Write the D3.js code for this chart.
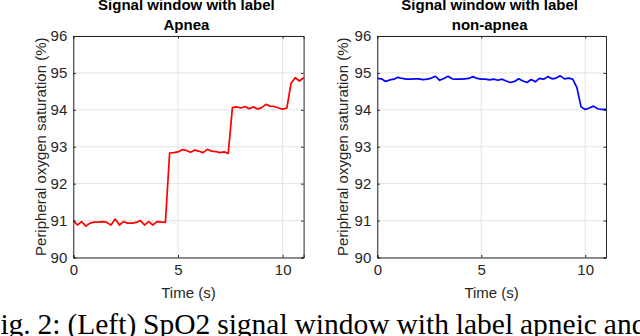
<!DOCTYPE html>
<html><head><meta charset="utf-8">
<script src="https://cdn.jsdelivr.net/npm/d3@7"></script>
<style>body{margin:0;background:#fff}svg{display:block}</style>
</head><body>
<svg id="c" width="640" height="336"></svg>
<script>
const timeS = [0.0,0.2,0.4,0.6,0.8,1.0,1.2,1.4,1.6,1.8,2.0,2.2,2.4,2.6,2.8,3.0,3.2,3.4,3.6,3.8,4.0,4.2,4.4,4.6,4.8,5.0,5.2,5.4,5.6,5.8,6.0,6.2,6.4,6.6,6.8,7.0,7.2,7.4,7.6,7.8,8.0,8.2,8.4,8.6,8.8,9.0,9.2,9.4,9.6,9.8,10.0,10.2,10.4,10.6,10.8,11.0];
const apneaSpO2 = [91.00,90.88,90.97,90.85,90.93,90.96,90.96,90.97,90.95,90.88,91.04,90.88,90.97,90.93,90.93,90.95,91.00,90.88,90.97,90.88,90.97,90.96,90.95,92.83,92.84,92.86,92.92,92.90,92.85,92.91,92.88,92.84,92.93,92.88,92.87,92.84,92.86,92.82,94.06,94.08,94.05,94.09,94.03,94.08,94.02,94.06,94.15,94.10,94.09,94.05,94.02,94.05,94.72,94.87,94.78,94.87];
const nonApneaSpO2 = [94.85,94.84,94.77,94.81,94.83,94.88,94.85,94.83,94.83,94.84,94.84,94.82,94.83,94.86,94.91,94.80,94.85,94.91,94.84,94.83,94.83,94.84,94.85,94.90,94.85,94.83,94.83,94.81,94.83,94.80,94.83,94.78,94.74,94.77,94.84,94.78,94.74,94.82,94.76,94.85,94.83,94.90,94.84,94.86,94.92,94.84,94.86,94.83,94.60,94.08,94.01,94.05,94.10,94.03,94.01,94.01];
const xTicks = [0,5,10];
const yTicks = [90,91,92,93,94,95,96];
const titlesLine1 = ["Signal window with label","Signal window with label"];
const titlesLine2 = ["Apnea","non-apnea"];
const xLabel = "Time (s)";
const yLabel = "Peripheral oxygen saturation (%)";
const captionWords = ["Fig.","2:","(Left)","SpO2","signal","window","with","label","apneic","and"];

const svg = d3.select("#c");
const font = "'Liberation Sans', Arial, Helvetica, sans-serif";
const axCol = "#262626";
const panels = [
  {x0:73.3, x1:303.6, data:apneaSpO2, color:"#ff0000", ylabX:46},
  {x0:377.3, x1:606, data:nonApneaSpO2, color:"#0000ff", ylabX:348}
];
const yTop = 36, yBot = 257.5;

panels.forEach((p,i)=>{
  const x = d3.scaleLinear().domain([0,11]).range([p.x0,p.x1]);
  const y = d3.scaleLinear().domain([90,96]).range([yBot,yTop]);
  const g = svg.append("g");
  g.selectAll(".gx").data(xTicks).join("line")
    .attr("x1",d=>x(d)).attr("x2",d=>x(d)).attr("y1",yTop).attr("y2",yBot)
    .attr("stroke","#e3e3e3").attr("stroke-width",1);
  g.selectAll(".gy").data(yTicks).join("line")
    .attr("x1",p.x0).attr("x2",p.x1).attr("y1",d=>y(d)).attr("y2",d=>y(d))
    .attr("stroke","#e3e3e3").attr("stroke-width",1);
  const pts = timeS.map((t,k)=>[t,p.data[k]]);
  g.append("path").datum(pts)
    .attr("d", d3.line().x(d=>x(d[0])).y(d=>y(d[1])))
    .attr("fill","none").attr("stroke",p.color).attr("stroke-width",1.7)
    .attr("stroke-linejoin","round");
  const ax = g.append("g").attr("transform",`translate(0,${yBot})`)
    .call(d3.axisBottom(x).tickValues(xTicks).tickSize(-2.5).tickPadding(7).tickFormat(d3.format("d")));
  const ay = g.append("g").attr("transform",`translate(${p.x0},0)`)
    .call(d3.axisLeft(y).tickValues(yTicks).tickSize(-2.5).tickPadding(6).tickFormat(d3.format("d")));
  const axt = g.append("g").attr("transform",`translate(0,${yTop})`)
    .call(d3.axisTop(x).tickValues(xTicks).tickSize(-2.5).tickFormat(""));
  const ayr = g.append("g").attr("transform",`translate(${p.x1},0)`)
    .call(d3.axisRight(y).tickValues(yTicks).tickSize(-2.5).tickFormat(""));
  [ax,ay,axt,ayr].forEach(a=>{
    a.select(".domain").attr("stroke",axCol).attr("stroke-width",1);
    a.selectAll(".tick line").attr("stroke",axCol);
    a.selectAll("text").attr("fill",axCol).style("font-family",font).style("font-size","15px");
  });
  g.append("text").attr("x",(p.x0+p.x1)/2).attr("y",298).attr("text-anchor","middle")
    .attr("fill",axCol).style("font-family",font).style("font-size","15px").text(xLabel);
  g.append("text").attr("transform",`translate(${p.ylabX},${(yTop+yBot)/2}) rotate(-90)`)
    .attr("text-anchor","middle").attr("fill",axCol).style("font-family",font).style("font-size","15px").text(yLabel);
  g.append("text").attr("x",(p.x0+p.x1)/2 - 2).attr("y",9.5).attr("text-anchor","middle")
    .attr("fill","#000").style("font-family",font).style("font-size","15px").style("font-weight","bold").text(titlesLine1[i]);
  g.append("text").attr("x",(p.x0+p.x1)/2 - 2).attr("y",30).attr("text-anchor","middle")
    .attr("fill","#000").style("font-family",font).style("font-size","15px").style("font-weight","bold").text(titlesLine2[i]);
});

svg.append("text").attr("x",-16).attr("y",334)
  .style("font-family","'Liberation Serif','Times New Roman',serif").style("font-size","29.5px")
  .attr("fill","#000").attr("word-spacing","-0.5px")
  .text(captionWords.join(" "));
</script>
</body></html>
